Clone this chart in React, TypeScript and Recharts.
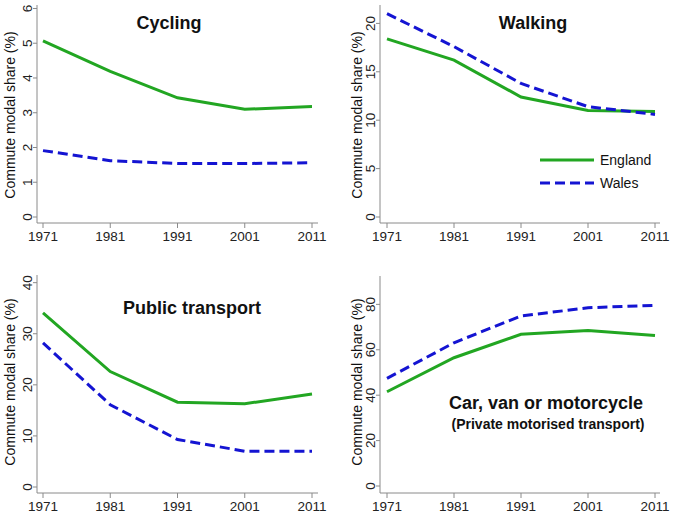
import { LineChart, Line, XAxis, YAxis } from 'recharts';

const years = [1971, 1981, 1991, 2001, 2011];

const cyclingEngland = [5.07, 4.19, 3.43, 3.1, 3.18];
const cyclingWales = [1.91, 1.62, 1.54, 1.54, 1.56];
const walkingEngland = [18.4, 16.2, 12.4, 11.0, 10.9];
const walkingWales = [21.0, 17.6, 13.8, 11.4, 10.6];
const publicEngland = [34.1, 22.6, 16.6, 16.3, 18.2];
const publicWales = [28.2, 16.1, 9.3, 7.0, 7.0];
const carEngland = [41.5, 56.5, 66.8, 68.5, 66.3];
const carWales = [47.4, 63.1, 74.9, 78.5, 79.6];

const cyclingTicks = [0, 1, 2, 3, 4, 5, 6];
const walkingTicks = [0, 5, 10, 15, 20];
const publicTicks = [0, 10, 20, 30, 40];
const carTicks = [0, 20, 40, 60, 80];

const GREEN = '#22a622';
const BLUE = '#1414d2';
const AXIS = '#8a8a8a';
const FONT = '"Liberation Sans", Arial, sans-serif';

const build = (eng: number[], wal: number[]) =>
  years.map((y, i) => ({ year: y, england: eng[i], wales: wal[i] }));

const XTick = ({ x, y, payload }: any) => (
  <text x={x} y={y} dy={11} textAnchor="middle" fontSize={13.5} fill="#222" fontFamily={FONT}>
    {payload.value}
  </text>
);

const YTick = ({ x, y, payload }: any) => (
  <text x={x} y={y} textAnchor="middle" fontSize={13.5} fill="#222" fontFamily={FONT}
    transform={`rotate(-90 ${x} ${y})`}>
    {payload.value}
  </text>
);

// legend sits inside the Walking panel
const LegendBox = () => (
  <svg width={130} height={50} style={{ position: 'absolute', left: 540, top: 152, overflow: 'visible' }}>
    <line x1={0} y1={8} x2={54} y2={8} stroke={GREEN} strokeWidth={3} />
    <text x={60} y={13} fontSize={14} fontFamily={FONT} fill="#111">England</text>
    <line x1={0} y1={31} x2={54} y2={31} stroke={BLUE} strokeWidth={3} strokeDasharray="10 5" />
    <text x={60} y={36} fontSize={14} fontFamily={FONT} fill="#111">Wales</text>
  </svg>
);

interface PanelProps {
  left: number;
  top: number;
  width: number;
  height: number;
  margin: { top: number; right: number; left: number; bottom: number };
  yWidth: number;
  xHeight: number;
  xPad: { left: number; right: number };
  yPad: number;
  yMax: number;
  ticks: number[];
  data: any[];
}

const Panel = (p: PanelProps) => (
  <div style={{ position: 'absolute', left: p.left, top: p.top }}>
    <LineChart width={p.width} height={p.height} data={p.data} margin={p.margin}>
      <XAxis dataKey="year" type="number" domain={[1971, 2011]} ticks={years} padding={p.xPad}
        height={p.xHeight} axisLine={{ stroke: AXIS }} tickLine={{ stroke: AXIS }} tickSize={5} tickMargin={2}
        tick={<XTick />} interval={0} />
      <YAxis type="number" domain={[0, p.yMax]} ticks={p.ticks} padding={{ top: 0, bottom: p.yPad }}
        width={p.yWidth} axisLine={{ stroke: AXIS }} tickLine={{ stroke: AXIS }} tickSize={4} tickMargin={1}
        tick={<YTick />} interval={0} allowDataOverflow />
      <Line dataKey="england" stroke={GREEN} strokeWidth={3} dot={false} isAnimationActive={false} />
      <Line dataKey="wales" stroke={BLUE} strokeWidth={3} strokeDasharray="10 5" dot={false} isAnimationActive={false} />
    </LineChart>
  </div>
);

const Overlay = ({ x, y, text, size, bold, rotate }: any) => (
  <div style={{
    position: 'absolute', left: x, top: y, transform: `translate(-50%, -50%)${rotate ? ' rotate(-90deg)' : ''}`,
    whiteSpace: 'nowrap', fontFamily: FONT, fontSize: size, fontWeight: bold ? 700 : 400, color: '#111',
    lineHeight: 1,
  }}>{text}</div>
);

export default function App() {
  return (
    <div style={{ position: 'absolute', left: 0, top: 0, width: 675, height: 518, background: '#fff', overflow: 'hidden' }}>
      <Panel left={0} top={0} width={337} height={259} margin={{ top: 5, right: 19, left: 0, bottom: 0 }}
        yWidth={37} xHeight={36} xPad={{ left: 6, right: 6 }} yPad={6} yMax={6.1} ticks={cyclingTicks}
        data={build(cyclingEngland, cyclingWales)} />
      <Panel left={337} top={0} width={338} height={259} margin={{ top: 5, right: 15, left: 0, bottom: 0 }}
        yWidth={43} xHeight={36} xPad={{ left: 7, right: 5 }} yPad={6} yMax={21.9} ticks={walkingTicks}
        data={build(walkingEngland, walkingWales)} />
      <Panel left={0} top={259} width={337} height={259} margin={{ top: 16, right: 19, left: 0, bottom: 0 }}
        yWidth={37} xHeight={25} xPad={{ left: 6, right: 6 }} yPad={6} yMax={41.5} ticks={publicTicks}
        data={build(publicEngland, publicWales)} />
      <Panel left={337} top={259} width={338} height={259} margin={{ top: 17, right: 15, left: 0, bottom: 0 }}
        yWidth={43} xHeight={25} xPad={{ left: 7, right: 5 }} yPad={7} yMax={92.5} ticks={carTicks}
        data={build(carEngland, carWales)} />

      <LegendBox />

      <Overlay x={10} y={115} text="Commute modal share (%)" size={14} rotate />
      <Overlay x={357} y={115} text="Commute modal share (%)" size={14} rotate />
      <Overlay x={10} y={382} text="Commute modal share (%)" size={14} rotate />
      <Overlay x={357} y={382} text="Commute modal share (%)" size={14} rotate />

      <Overlay x={169} y={23} text="Cycling" size={18} bold />
      <Overlay x={533} y={23} text="Walking" size={18} bold />
      <Overlay x={192} y={308} text="Public transport" size={18} bold />
      <Overlay x={546} y={403} text="Car, van or motorcycle" size={18} bold />
      <Overlay x={548} y={424} text="(Private motorised transport)" size={14} bold />
    </div>
  );
}
